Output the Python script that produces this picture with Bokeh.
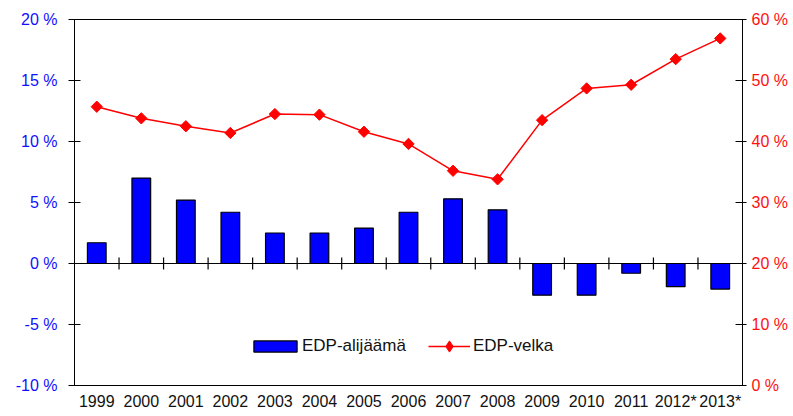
import numpy as np
from bokeh.plotting import figure
from bokeh.models import Range1d, LinearAxis, FixedTicker, Span, Legend, LegendItem
from bokeh.embed import file_html
from bokeh.resources import INLINE

years = ["1999", "2000", "2001", "2002", "2003", "2004", "2005", "2006",
         "2007", "2008", "2009", "2010", "2011", "2012*", "2013*"]
deficit = [1.7, 7.0, 5.2, 4.2, 2.5, 2.5, 2.9, 4.2, 5.3, 4.4, -2.6, -2.6, -0.8, -1.9, -2.1]
debt = [45.7, 43.8, 42.5, 41.4, 44.5, 44.4, 41.6, 39.6, 35.2, 33.8, 43.5, 48.7, 49.3, 53.5, 56.9]
left_ticks = [-10, -5, 0, 5, 10, 15, 20]
right_ticks = [0, 10, 20, 30, 40, 50, 60]

FONT = "Liberation Sans"
n = len(years)
xs = list(range(n))

p = figure(width=793, height=416,
           x_range=Range1d(-0.5, n - 0.5), y_range=Range1d(-10, 20),
           output_backend="svg", toolbar_location=None,
           min_border_left=74, min_border_right=51, min_border_top=19, min_border_bottom=31)
# "legend" range lies far away from the data so its marker only shows in the legend
p.extra_y_ranges = {"right": Range1d(0, 60), "legend": Range1d(1000, 1001)}
p.xgrid.visible = False
p.ygrid.visible = False
p.outline_line_color = "black"
p.outline_line_width = 1
p.background_fill_color = "white"
p.border_fill_color = "white"

# x axis (labels only)
xa = p.xaxis[0]
xa.ticker = FixedTicker(ticks=xs)
xa.major_label_overrides = {i: y for i, y in zip(xs, years)}
xa.axis_line_color = None
xa.major_tick_line_color = None
xa.major_tick_out = 0
xa.major_tick_in = 0
xa.minor_tick_line_color = None
xa.major_label_standoff = 7
xa.major_label_text_font = FONT
xa.major_label_text_font_size = "16px"
xa.major_label_text_color = "#111111"

# left axis
ya = p.yaxis[0]
ya.ticker = FixedTicker(ticks=left_ticks)
ya.major_label_overrides = {t: f"{t} %" for t in left_ticks}
ya.axis_line_color = "black"
ya.major_tick_line_color = "black"
ya.major_tick_in = 6
ya.major_tick_out = 6
ya.minor_tick_line_color = None
ya.major_label_standoff = 11
ya.major_label_text_font = FONT
ya.major_label_text_font_size = "16px"
ya.major_label_text_color = "#1010FF"

# right axis
ra = LinearAxis(y_range_name="right", ticker=FixedTicker(ticks=right_ticks))
ra.major_label_overrides = {t: f"{t} %" for t in right_ticks}
ra.axis_line_color = "black"
ra.major_tick_line_color = "black"
ra.major_tick_in = 7
ra.major_tick_out = 4
ra.minor_tick_line_color = None
ra.major_label_standoff = 5
ra.major_label_text_font = FONT
ra.major_label_text_font_size = "16px"
ra.major_label_text_color = "#FF1010"
p.add_layout(ra, "right")

# zero line with category ticks
p.add_layout(Span(location=0, dimension="width", line_color="black", line_width=1.2))
bounds = [i + 0.5 for i in range(n - 1)]
p.segment(x0=bounds, y0=-0.5, x1=bounds, y1=0.5, line_color="black", line_width=1.2)

bars = p.vbar(x=xs, top=deficit, bottom=0, width=0.42, fill_color="#0000FF",
              line_color="black", line_width=1.2)
ln = p.line(x=xs, y=debt, y_range_name="right", line_color="#FF0000", line_width=1.5)
pts = p.scatter(x=xs, y=debt, y_range_name="right", marker="square", angle=np.pi / 4,
                size=8, fill_color="#FF0000", line_color="#FF0000")
leg_pt = p.scatter(x=xs, y=debt, y_range_name="legend", marker="diamond", size=13,
                   fill_color="#FF0000", line_color="#FF0000")

legend1 = Legend(items=[LegendItem(label="EDP-alijäämä", renderers=[bars])],
                 orientation="horizontal", location=(174, 29),
                 glyph_width=54, glyph_height=14, label_standoff=0,
                 padding=0, margin=0, border_line_color=None, background_fill_alpha=0,
                 label_text_font=FONT, label_text_font_size="17px",
                 label_text_color="#111111")
legend2 = Legend(items=[LegendItem(label="EDP-velka", renderers=[ln, leg_pt])],
                 orientation="horizontal", location=(354, 25),
                 glyph_width=42, glyph_height=28, label_standoff=3,
                 padding=0, margin=0, border_line_color=None, background_fill_alpha=0,
                 label_text_font=FONT, label_text_font_size="17px",
                 label_text_color="#111111")
p.add_layout(legend1)
p.add_layout(legend2)

open("out.html", "w").write(file_html(p, INLINE))
